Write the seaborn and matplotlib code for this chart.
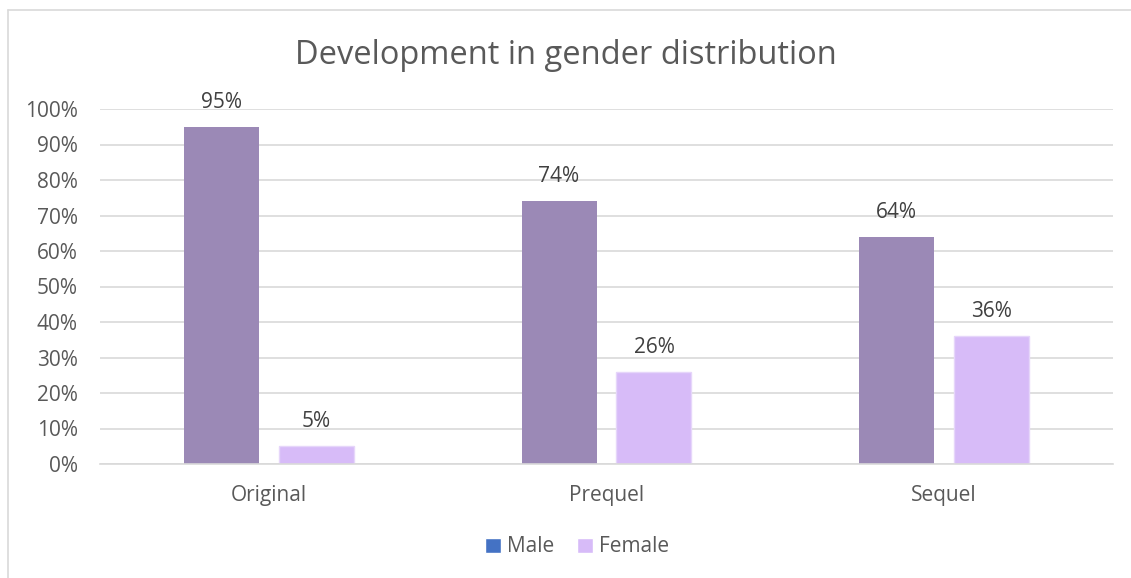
import matplotlib
matplotlib.use("Agg")
import matplotlib.pyplot as plt
import seaborn as sns
import pandas as pd
from matplotlib.patches import Patch
from matplotlib.lines import Line2D

categories = ["Original", "Prequel", "Sequel"]
male = [0.95, 0.74, 0.64]
female = [0.05, 0.26, 0.36]
series = ["Male", "Female"]
yticks = [0, 0.1, 0.2, 0.3, 0.4, 0.5, 0.6, 0.7, 0.8, 0.9, 1.0]

df = pd.DataFrame({
    "cat": categories * 2,
    "val": male + female,
    "series": ["Male"] * 3 + ["Female"] * 3,
})

sns.set_theme(style="white")
plt.rcParams["font.family"] = ["Open Sans", "DejaVu Sans"]

W, H = 1131, 578
fig = plt.figure(figsize=(W / 100, H / 100), dpi=100)
ax = fig.add_axes([100 / W, 1 - 464 / H, (1113 - 100) / W, (464 - 109) / H])

bar_colors = ["#9B89B6", "#D7BBF8"]
sns.barplot(data=df, x="cat", y="val", hue="series", hue_order=series,
            order=categories, palette=bar_colors, width=0.5626, gap=0.2105,
            ax=ax, legend=False, saturation=1)
for p in ax.patches:
    p.set_edgecolor("none")
for p in ax.patches[3:6]:
    p.set_edgecolor("#E6D6FA")
    p.set_linewidth(1)

ax.set_ylim(0, 1.0)
ax.set_xlim(-0.5, 2.5)
ax.set_yticks(yticks)
ax.set_yticklabels([f"{int(round(t*100))}%" for t in yticks])
ax.yaxis.grid(True, color="#D9D9D9", linewidth=1.2)
ax.set_axisbelow(True)
for s in ["left", "right", "top"]:
    ax.spines[s].set_visible(False)
ax.spines["bottom"].set_color("#D9D9D9")
ax.spines["bottom"].set_linewidth(1.2)
ax.set_xlabel("")
ax.set_ylabel("")
ax.tick_params(axis="both", length=0, labelsize=15, labelcolor="#595959")
ax.tick_params(axis="y", pad=16)
ax.tick_params(axis="x", pad=15)

for c in ax.containers:
    ax.bar_label(c, labels=[f"{int(round(v*100))}%" for v in c.datavalues],
                 padding=10, fontsize=15, color="#404040")

fig.text(0.5, 1 - 56 / H, "Development in gender distribution",
         ha="center", va="center", fontsize=23.5, color="#595959")

handles = [Patch(facecolor="#4472C4"), Patch(facecolor="#D7BBF8")]
fig.legend(handles, series, loc="center", bbox_to_anchor=(577 / W, 1 - 547 / H),
           ncol=2, frameon=False, fontsize=15, handlelength=0.75, handleheight=0.75,
           handletextpad=0.3, columnspacing=1.1, labelcolor="#595959")

# outer chart border
fig.add_artist(Line2D([8 / W, 8 / W], [0, 1 - 10 / H], transform=fig.transFigure,
                      color="#D9D9D9", linewidth=1.2))
fig.add_artist(Line2D([8 / W, 1], [1 - 10 / H, 1 - 10 / H], transform=fig.transFigure,
                      color="#D9D9D9", linewidth=1.2))

fig.savefig("out.png", dpi=100, facecolor="white")
